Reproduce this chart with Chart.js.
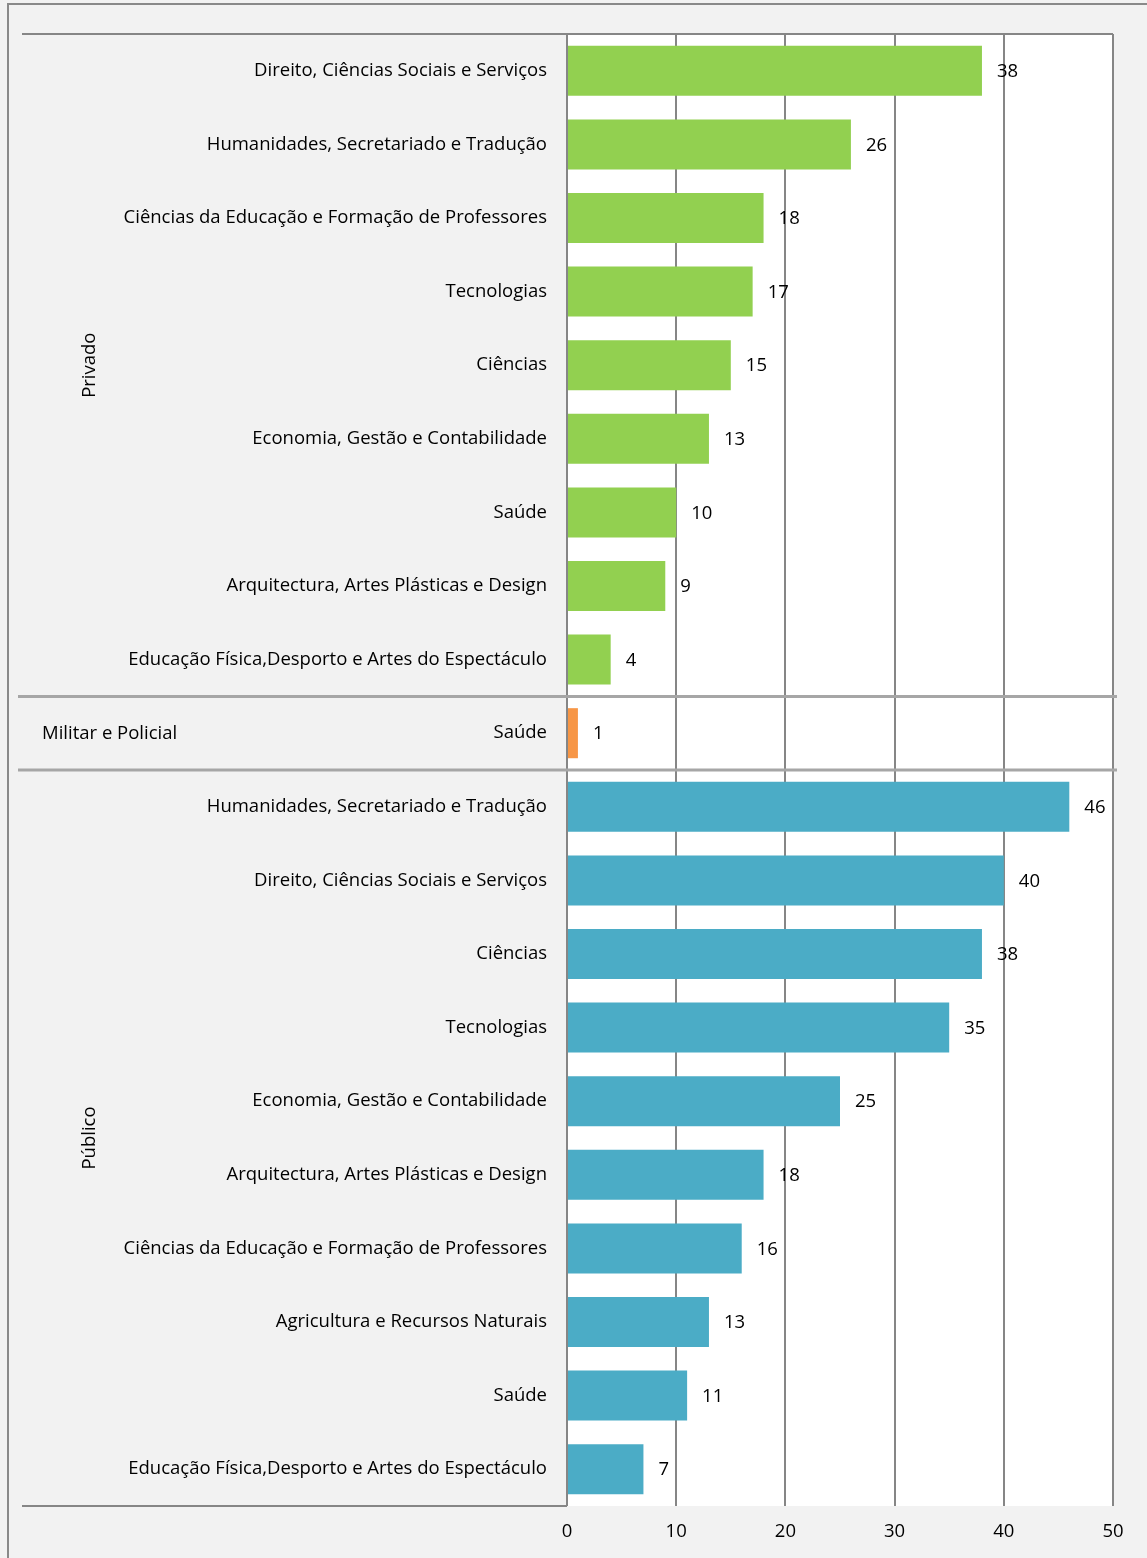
<!DOCTYPE html>
<html>
<head>
<meta charset="utf-8">
<script src="https://cdn.jsdelivr.net/npm/chart.js@4"></script>
<style>
html,body{margin:0;padding:0;background:#f2f2f2;}
#wrap{position:relative;width:1147px;height:1558px;}
</style>
</head>
<body>
<div id="wrap"><canvas id="c"></canvas></div>
<script>
const categories = [
  "Direito, Ciências Sociais e Serviços",
  "Humanidades, Secretariado e Tradução",
  "Ciências da Educação e Formação de Professores",
  "Tecnologias",
  "Ciências",
  "Economia, Gestão e Contabilidade",
  "Saúde",
  "Arquitectura, Artes Plásticas e Design",
  "Educação Física,Desporto e Artes do Espectáculo",
  "Saúde",
  "Humanidades, Secretariado e Tradução",
  "Direito, Ciências Sociais e Serviços",
  "Ciências",
  "Tecnologias",
  "Economia, Gestão e Contabilidade",
  "Arquitectura, Artes Plásticas e Design",
  "Ciências da Educação e Formação de Professores",
  "Agricultura e Recursos Naturais",
  "Saúde",
  "Educação Física,Desporto e Artes do Espectáculo"
];
const values = [38, 26, 18, 17, 15, 13, 10, 9, 4, 1, 46, 40, 38, 35, 25, 18, 16, 13, 11, 7];
const groupNames = ["Privado", "Militar e Policial", "Público"];
const groupSizes = [9, 1, 10];
const groupColors = ["#92d050", "#f79646", "#4bacc6"];
const xTicks = [0, 10, 20, 30, 40, 50];

const FONT = "'Open Sans', Lato, sans-serif";
const FS = 18.5;
const colors = [];
groupSizes.forEach((n, g) => { for (let i = 0; i < n; i++) colors.push(groupColors[g]); });

const decor = {
  id: 'decor',
  beforeDraw(chart) {
    const {ctx, chartArea: a} = chart;
    ctx.save();
    ctx.fillStyle = '#f2f2f2';
    ctx.fillRect(0, 0, chart.width, chart.height);
    ctx.fillStyle = '#ffffff';
    ctx.fillRect(a.left, a.top, a.right - a.left, a.bottom - a.top);
    ctx.strokeStyle = '#898989';
    ctx.lineWidth = 2;
    ctx.strokeRect(8, 4, chart.width + 10, chart.height + 10);
    ctx.restore();
  },
  afterDatasetsDraw(chart) {
    const {ctx, chartArea: a, scales} = chart;
    const y = scales.y;
    ctx.save();
    ctx.strokeStyle = '#868686';
    ctx.lineWidth = 2;
    ctx.beginPath();
    ctx.moveTo(22, a.top); ctx.lineTo(a.right, a.top);
    ctx.moveTo(22, a.bottom); ctx.lineTo(a.left, a.bottom);
    ctx.stroke();
    const step = (a.bottom - a.top) / categories.length;
    ctx.strokeStyle = '#a6a6a6';
    ctx.lineWidth = 3;
    let idx = 0;
    for (let g = 0; g < groupSizes.length - 1; g++) {
      idx += groupSizes[g];
      const yy = y.getPixelForValue(idx) - step / 2;
      ctx.beginPath(); ctx.moveTo(18, yy); ctx.lineTo(a.right + 4, yy); ctx.stroke();
    }
    ctx.fillStyle = '#000';
    ctx.font = FS + 'px ' + FONT;
    ctx.textBaseline = 'middle';
    idx = 0;
    groupSizes.forEach((n, g) => {
      const top = y.getPixelForValue(idx) - step / 2;
      const bot = y.getPixelForValue(idx + n - 1) + step / 2;
      const cy = (top + bot) / 2;
      if (n > 1) {
        ctx.save();
        ctx.translate(90, cy);
        ctx.rotate(-Math.PI / 2);
        ctx.textAlign = 'center';
        ctx.fillText(groupNames[g], 0, 0);
        ctx.restore();
      } else {
        ctx.textAlign = 'left';
        ctx.fillText(groupNames[g], 42, cy + 1);
      }
      idx += n;
    });
    const meta = chart.getDatasetMeta(0);
    ctx.textAlign = 'left';
    meta.data.forEach((bar, i) => {
      ctx.fillText(String(values[i]), bar.x + 15, bar.y + 1);
    });
    ctx.restore();
  }
};

new Chart(document.getElementById('c'), {
  type: 'bar',
  data: {
    labels: categories,
    datasets: [{ data: values, backgroundColor: colors, barPercentage: 0.68, categoryPercentage: 1.0 }]
  },
  options: {
    indexAxis: 'y',
    responsive: true,
    maintainAspectRatio: false,
    animation: false,
    devicePixelRatio: 1,
    layout: { padding: { left: 22, top: 34, right: 34, bottom: 0 } },
    plugins: { legend: { display: false }, tooltip: { enabled: false } },
    scales: {
      x: {
        min: 0, max: 50,
        afterBuildTicks(s) { s.ticks = xTicks.map(v => ({ value: v })); },
        afterFit(s) { s.height = 52; },
        grid: { color: '#868686', lineWidth: 2, drawTicks: false },
        border: { display: false },
        ticks: { color: '#000', font: { family: FONT, size: FS }, padding: 15 }
      },
      y: {
        afterFit(s) { s.width = 545; },
        grid: { display: false },
        border: { display: false },
        ticks: { color: '#000', font: { family: FONT, size: FS }, padding: 12, autoSkip: false }
      }
    }
  },
  plugins: [decor]
});
</script>
</body>
</html>
